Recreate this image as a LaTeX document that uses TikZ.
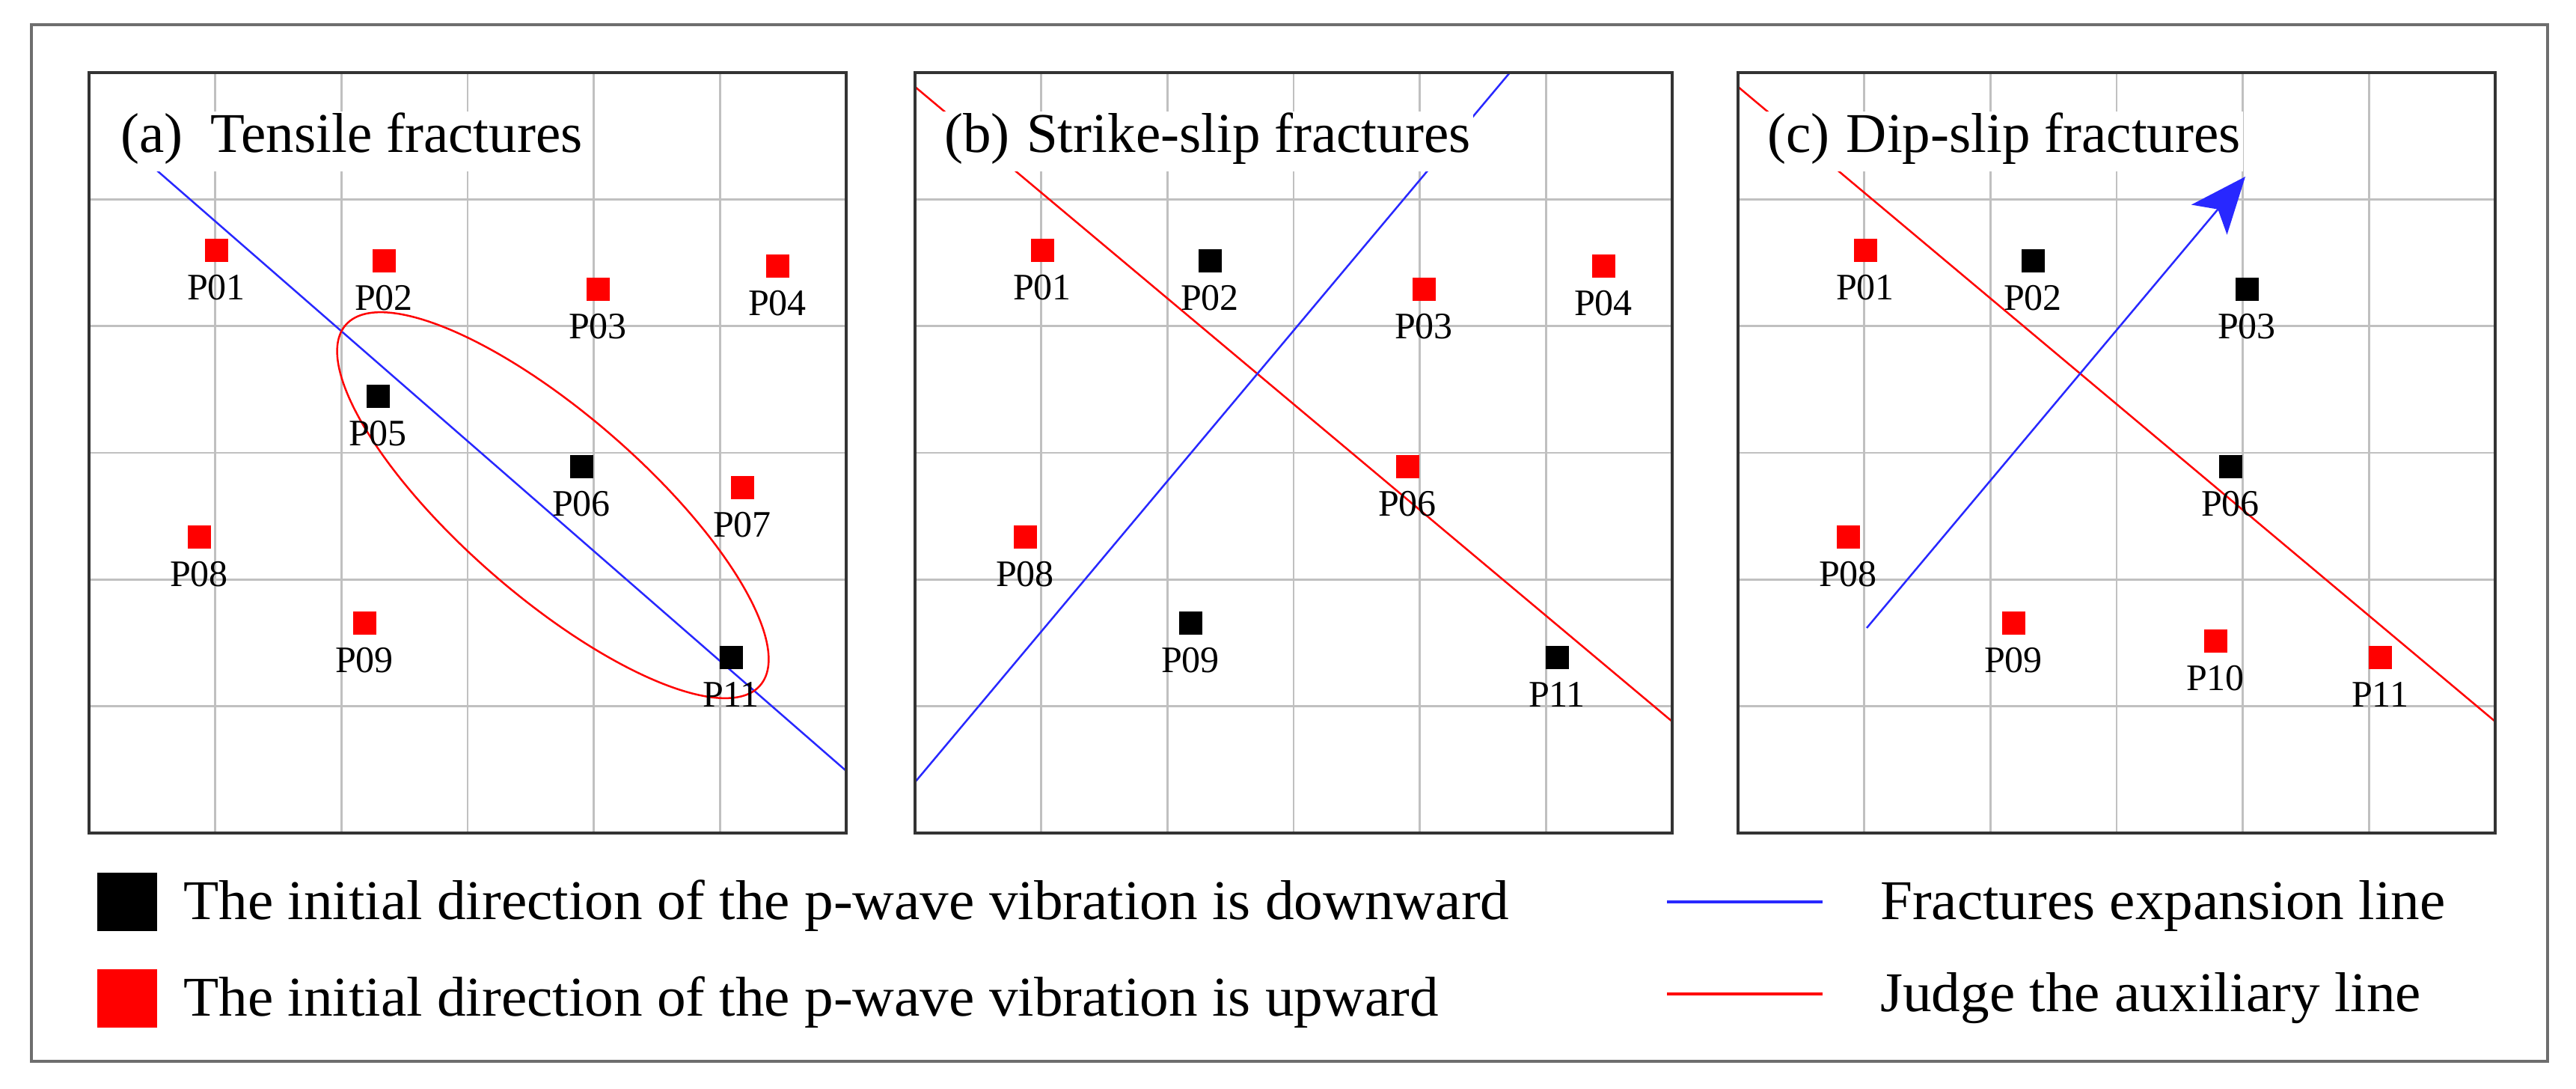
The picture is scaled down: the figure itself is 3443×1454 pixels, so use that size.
\documentclass[tikz,border=0pt]{standalone}
\usepackage{fontspec}
\setmainfont{Liberation Serif}
\usetikzlibrary{arrows.meta}
\definecolor{gridgray}{RGB}{192,192,192}
\definecolor{framegray}{RGB}{110,110,110}
\definecolor{ptred}{RGB}{255,0,0}
\definecolor{lnblue}{RGB}{40,40,255}
\begin{document}
\begin{tikzpicture}[x=1pt,y=-1pt,
  gridline/.style={gridgray,line width=2.5pt},
  panelframe/.style={draw=black!80,line width=3.5pt},
  dn/.style={fill=black,minimum size=31pt,inner sep=0pt},
  up/.style={fill=ptred,minimum size=31pt,inner sep=0pt},
  ptlabel/.style={font=\fontsize{50}{60}\selectfont,inner sep=0pt,anchor=base},
  titlebox/.style={fill=white,anchor=base west,inner xsep=3pt,inner ysep=0pt,text height=54pt,text depth=26pt,font=\fontsize{75}{90}\selectfont},
  redline/.style={ptred,line width=2.5pt},
  blueline/.style={lnblue,line width=2.5pt},
  legtext/.style={font=\fontsize{75}{90}\selectfont,anchor=base west,inner sep=0pt,xscale=1.03}]
\useasboundingbox (0,0) rectangle (3443,1454);
\fill[white] (0,0) rectangle (3443,1454);
\draw[framegray,line width=3.5pt] (42,33) rectangle (3405,1418);
% panel grids
\foreach \ox in {119,1223,2323}{
  \begin{scope}[shift={(\ox,97)}]
    \foreach \i in {1,...,5}{
      \draw[gridline] (\i*168.67,0) -- (\i*168.67,1016);
      \draw[gridline] (0,\i*169.33) -- (1012,\i*169.33);
    }
  \end{scope}
}
% ---------- panel a ----------
\begin{scope}[shift={(119,97)}]
  \draw[blueline] (91,131) -- (1012,933);
  \draw[redline,shift={(620,578)},rotate=-41] (0,0) ellipse (367 and 122);
  \node[titlebox] (ta) at (39,106) {(a)\hspace{0.5em}Tensile fractures};
  \foreach \n/\x/\y/\s in {01/170/237/up,02/394/251/up,03/680/289/up,04/920/258/up,05/386/432/dn,06/658/526/dn,07/873/554/up,08/147/620/up,09/368/735/up,11/858/781/dn}{
    \node[\s] (a\n) at (\x,\y) {};
    \node[ptlabel] (la\n) at (\x,\y+66) {P\n};
  }
\end{scope}
% ---------- panel b ----------
\begin{scope}[shift={(1223,97)}]
  \draw[redline] (0,19) -- (1012,867);
  \draw[blueline] (0,948) -- (795,0);
  \node[titlebox] (tb) at (36,106) {(b)\hspace{0.3em}Strike-slip fractures};
  \foreach \n/\x/\y/\s in {01/170/237/up,02/394/251/dn,03/680/289/up,04/920/258/up,06/658/526/up,08/147/620/up,09/368/735/dn,11/858/781/dn}{
    \node[\s] (b\n) at (\x,\y) {};
    \node[ptlabel] (lb\n) at (\x,\y+66) {P\n};
  }
\end{scope}
% ---------- panel c ----------
\begin{scope}[shift={(2323,97)}]
  \draw[redline] (0,19) -- (1012,867);
  \node[titlebox] (tc) at (36,106) {(c)\hspace{0.3em}Dip-slip fractures};
  \coordinate (cs) at (172,742);
  \coordinate (ce) at (678,139);
  \draw[blueline,-{Stealth[length=75pt,width=62pt,inset=18pt]}] (cs) -- (ce);
  \foreach \n/\x/\y/\s in {01/170/237/up,02/394/251/dn,03/680/289/dn,06/658/526/dn,08/147/620/up,09/368/735/up,10/638/759/up,11/858/781/up}{
    \node[\s] (c\n) at (\x,\y) {};
    \node[ptlabel] (lc\n) at (\x,\y+66) {P\n};
  }
\end{scope}
% panel frames on top
\foreach \ox in {119,1223,2323}{
  \draw[panelframe] (\ox,97) rectangle (\ox+1012,1113);
}
% ---------- legend ----------
\node[fill=black,minimum width=80pt,minimum height=78pt,inner sep=0pt] (kdn) at (170,1205) {};
\node[fill=ptred,minimum width=80pt,minimum height=78pt,inner sep=0pt] (kup) at (170,1334) {};
\node[legtext] (tdn) at (245,1228) {The initial direction of the p-wave vibration is downward};
\node[legtext] (tup) at (245,1357) {The initial direction of the p-wave vibration is upward};
\coordinate (lb1) at (2228,1205);
\coordinate (lb2) at (2436,1205);
\coordinate (lr1) at (2228,1328);
\coordinate (lr2) at (2436,1328);
\draw[blueline,line width=4pt] (lb1) -- (lb2);
\draw[redline,line width=4pt] (lr1) -- (lr2);
\node[legtext] (tbl) at (2513,1228) {Fractures expansion line};
\node[legtext] (trd) at (2513,1351) {Judge the auxiliary line};
\end{tikzpicture}
\end{document}
